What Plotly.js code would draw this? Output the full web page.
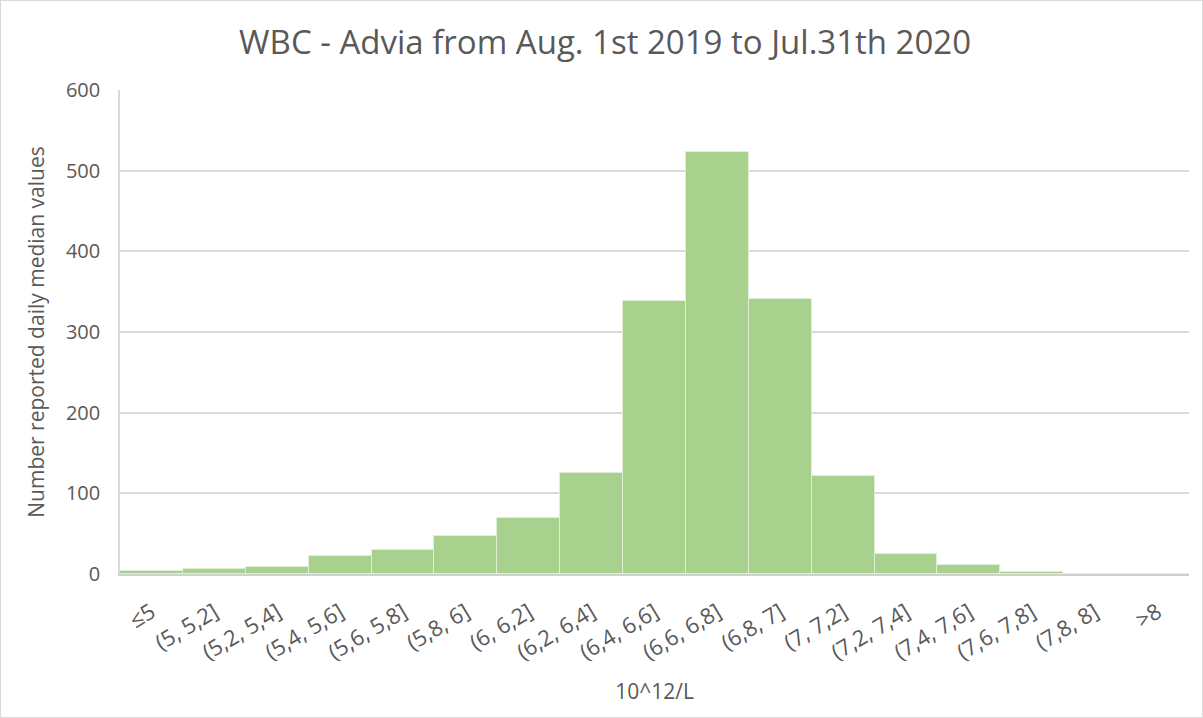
<!DOCTYPE html>
<html>
<head>
<meta charset="utf-8">
<script src="https://cdn.plot.ly/plotly-3.0.1.min.js"></script>
<style>
html,body{margin:0;padding:0;background:#fff;}
#chart{width:1201px;height:716px;border:1px solid #d9d9d9;}
</style>
</head>
<body>
<div id="chart"></div>
<script>
const categories = ["≤5","(5, 5,2]","(5,2, 5,4]","(5,4, 5,6]","(5,6, 5,8]","(5,8, 6]","(6, 6,2]","(6,2, 6,4]","(6,4, 6,6]","(6,6, 6,8]","(6,8, 7]","(7, 7,2]","(7,2, 7,4]","(7,4, 7,6]","(7,6, 7,8]","(7,8, 8]",">8"];
const counts = [4, 6, 9, 22, 30, 47, 69, 125, 339, 523, 341, 122, 25, 11, 2, 0, 0];
const yTicks = [0, 100, 200, 300, 400, 500, 600];

const font = "Open Sans, Noto Sans, sans-serif";
const grey = "#595959";

Plotly.newPlot("chart", [{
  type: "bar",
  x: categories,
  y: counts,
  marker: {color: "#A9D18E", line: {color: "#dfeed6", width: 1}},
  hoverinfo: "x+y"
}], {
  width: 1201, height: 716,
  margin: {l: 119, r: 13, t: 89, b: 143},
  bargap: 0,
  paper_bgcolor: "#fff",
  plot_bgcolor: "#fff",
  title: {text: "WBC - Advia from Aug. 1st 2019 to Jul.31th 2020", font: {family: font, size: 33, color: grey}, x: 0.503, xanchor: "center", y: 0.942, yanchor: "middle"},
  xaxis: {
    type: "category",
    tickangle: -31,
    tickfont: {family: font, size: 22, color: grey},
    showline: true, linecolor: "#d0d0d0", linewidth: 2,
    ticks: "", showgrid: false,
    ticklabelstandoff: 15,
    title: {text: "10^12/L", font: {family: font, size: 21, color: grey}, standoff: 20}
  },
  yaxis: {
    range: [0, 600],
    tickvals: yTicks,
    tickfont: {family: font, size: 20, color: grey},
    gridcolor: "#d9d9d9", gridwidth: 1.5,
    showline: true, linecolor: "#d9d9d9", linewidth: 1.5,
    zeroline: false,
    ticks: "", ticklabelstandoff: 14,
    title: {text: "Number reported daily median values", font: {family: font, size: 21, color: grey}, standoff: 16}
  },
  showlegend: false
}, {displayModeBar: false});
</script>
</body>
</html>
